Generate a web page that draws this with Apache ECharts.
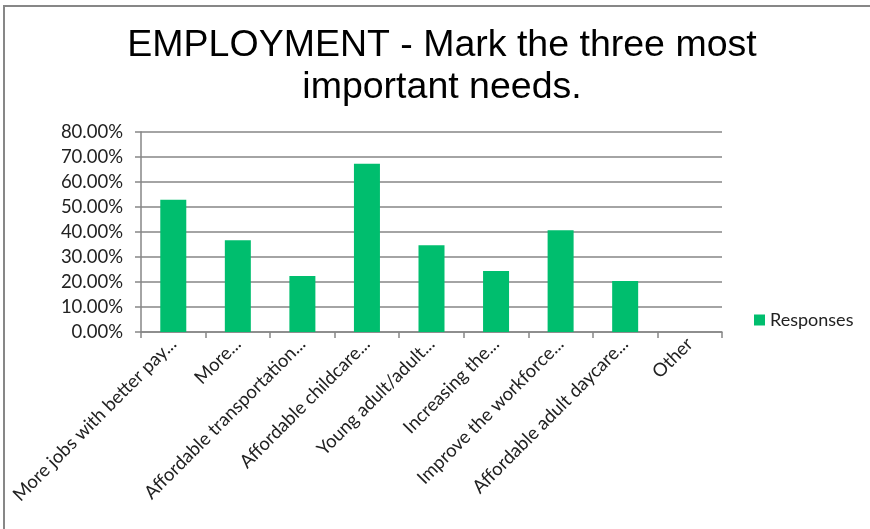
<!DOCTYPE html>
<html>
<head>
<meta charset="utf-8">
<script src="https://cdn.jsdelivr.net/npm/echarts@6/dist/echarts.min.js"></script>
<style>
  html, body { margin: 0; padding: 0; background: #fff; }
  #chart { width: 870px; height: 529px; }
</style>
</head>
<body>
<div id="chart"></div>
<script>
const categories = [
  'More jobs with better pay...',
  'More...',
  'Affordable transportation...',
  'Affordable childcare...',
  'Young adult/adult...',
  'Increasing the...',
  'Improve the workforce...',
  'Affordable adult daycare...',
  'Other'
];
const responses = [52.9, 36.7, 22.4, 67.3, 34.7, 24.4, 40.7, 20.4, 0];
const titleLines = ['EMPLOYMENT - Mark the three most', 'important needs.'];
const seriesName = 'Responses';

const gray = '#868686';
const labelFont = 'Lato';

const chart = echarts.init(document.getElementById('chart'), null, { renderer: 'canvas' });
chart.setOption({
  backgroundColor: '#ffffff',
  animation: false,
  title: {
    text: titleLines.join('\n'),
    left: 437,
    textAlign: 'center',
    top: 20,
    textStyle: {
      fontFamily: 'Liberation Sans',
      fontSize: 37.5,
      fontWeight: 'normal',
      color: '#000000',
      lineHeight: 42
    }
  },
  legend: {
    data: [seriesName],
    left: 754,
    top: 311,
    padding: 0,
    icon: 'rect',
    itemWidth: 11,
    itemHeight: 11,
    itemGap: 5,
    textStyle: { fontFamily: labelFont, fontSize: 18, color: '#222222' }
  },
  grid: { left: 141, right: 148, top: 132, bottom: 197, containLabel: false },
  xAxis: {
    type: 'category',
    data: categories,
    axisLine: { show: true, lineStyle: { color: gray, width: 1.5 } },
    axisTick: { show: true, length: 6, lineStyle: { color: gray, width: 1.5 } },
    axisLabel: {
      rotate: 45,
      interval: 0,
      margin: 9,
      fontFamily: labelFont,
      fontSize: 18.5,
      color: '#222222'
    }
  },
  yAxis: {
    type: 'value',
    min: 0,
    max: 80,
    interval: 10,
    axisLine: { show: true, lineStyle: { color: gray, width: 1.5 } },
    axisTick: { show: true, length: 6, lineStyle: { color: gray, width: 1.5 } },
    splitLine: { show: true, lineStyle: { color: gray, width: 1.5 } },
    axisLabel: {
      margin: 18,
      fontFamily: labelFont,
      fontSize: 18.5,
      color: '#222222',
      formatter: v => v.toFixed(2) + '%'
    }
  },
  series: [{
    name: seriesName,
    type: 'bar',
    data: responses,
    barWidth: 26,
    itemStyle: { color: '#00BE6E' }
  }],
  graphic: [
    { type: 'line', shape: { x1: 3, y1: 6, x2: 870, y2: 6 }, style: { stroke: '#878787', lineWidth: 2 }, silent: true },
    { type: 'line', shape: { x1: 4, y1: 5, x2: 4, y2: 529 }, style: { stroke: '#878787', lineWidth: 2 }, silent: true }
  ]
});
</script>
</body>
</html>
